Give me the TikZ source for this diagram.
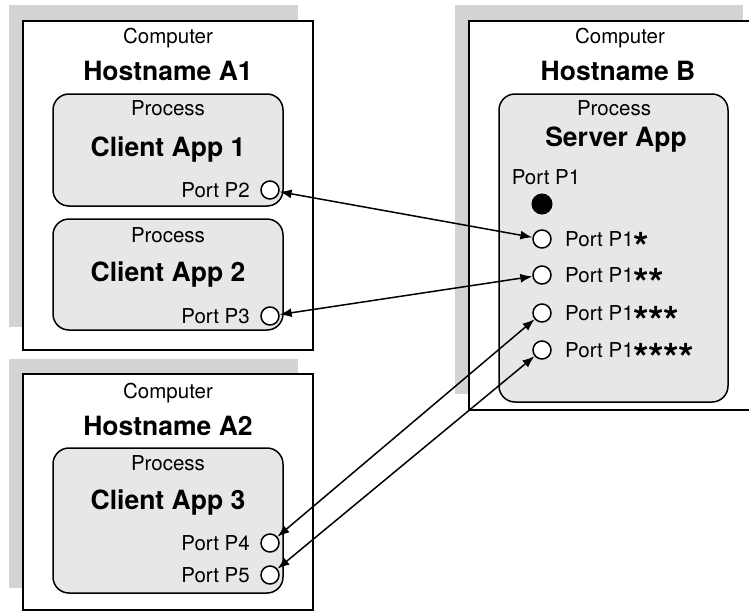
\documentclass[tikz,border=0pt]{standalone}
\usepackage{fontspec}
\setmainfont{TeX Gyre Heros}
\usetikzlibrary{arrows.meta}
\definecolor{shadowgray}{RGB}{209,211,212}
\definecolor{procgray}{RGB}{230,231,233}
\newcommand\portstar{\raisebox{-14.5pt}[12pt][0pt]{\fontsize{40pt}{40pt}\selectfont\bfseries *}\kern-0.5pt}
\begin{document}
\begin{tikzpicture}[x=1pt,y=-1pt,
  shadowbox/.style={rectangle, fill=shadowgray, draw=none, inner sep=0pt, outer sep=0pt, anchor=north west},
  compbox/.style={rectangle, fill=white, draw=black, line width=1.8pt, inner sep=0pt, outer sep=0pt, anchor=north west},
  procbox/.style={rectangle, rounded corners=16pt, fill=procgray, draw=black, line width=1.5pt, inner sep=0pt, outer sep=0pt, anchor=north west},
  small/.style={font=\fontsize{20.5pt}{24pt}\selectfont, inner sep=0pt},
  big/.style={font=\fontsize{26.5pt}{30pt}\selectfont\bfseries, inner sep=0pt},
  portc/.style={circle, draw=black, fill=white, line width=1.5pt, minimum size=18pt, inner sep=0pt},
  portf/.style={circle, draw=black, fill=black, line width=1pt, minimum size=20pt, inner sep=0pt},
  link/.style={{Latex[length=12pt,width=9pt]}-{Latex[length=12pt,width=9pt]}, line width=1.5pt}
]
\clip (0,0) rectangle (749,613);
\fill[white] (0,0) rectangle (749,613);

% Computer A1
\node[shadowbox, minimum width=289pt, minimum height=322pt] (A1s) at (9,5) {};
\node[compbox, minimum width=290pt, minimum height=329pt] (A1) at (23,21) {};
\node[small] (A1t) at (168,38) {Computer};
\node[big] (A1h) at (168,71) {Hostname A1};
\node[procbox, minimum width=230pt, minimum height=112pt] (C1) at (53,94) {};
\node[small] (C1t) at (168,108) {Process};
\node[big] (C1h) at (168,150) {Client App 1};
\node[small, anchor=east] (L2) at (250,190) {Port P2};
\node[portc] (p2) at (270,190) {};
\node[procbox, minimum width=230pt, minimum height=111pt] (C2) at (53,219) {};
\node[small] (C2t) at (168,235) {Process};
\node[big] (C2h) at (168,275) {Client App 2};
\node[small, anchor=east] (L3) at (250,316) {Port P3};
\node[portc] (p3) at (270,316) {};

% Computer A2
\node[shadowbox, minimum width=289pt, minimum height=229pt] (A2s) at (9,359) {};
\node[compbox, minimum width=290pt, minimum height=236pt] (A2) at (23,374) {};
\node[small] (A2t) at (168,393) {Computer};
\node[big] (A2h) at (168,426) {Hostname A2};
\node[procbox, minimum width=230pt, minimum height=145pt] (C3) at (53,448) {};
\node[small] (C3t) at (168,463) {Process};
\node[big] (C3h) at (168,503) {Client App 3};
\node[small, anchor=east] (L4) at (250,543) {Port P4};
\node[portc] (p4) at (270,543) {};
\node[small, anchor=east] (L5) at (250,575) {Port P5};
\node[portc] (p5) at (270,575) {};

% Computer B
\node[shadowbox, minimum width=288pt, minimum height=389pt] (Bs) at (455,5) {};
\node[compbox, minimum width=300pt, minimum height=389pt] (B) at (469,21) {};
\node[small] (Bt) at (620,38) {Computer};
\node[big] (Bh) at (618,71) {Hostname B};
\node[procbox, minimum width=229pt, minimum height=308pt] (S) at (499,94) {};
\node[small] (St) at (614,108) {Process};
\node[big] (Sh) at (616,140) {Server App};
\node[small] (L1) at (546,177) {Port P1};
\node[portf] (p1) at (542,204) {};
\node[portc] (q1) at (542,239) {};
\node[small, anchor=base west] (M1) at (565,246.5) {Port P1\portstar};
\node[portc] (q2) at (542,275) {};
\node[small, anchor=base west] (M2) at (565,282.5) {Port P1\portstar\portstar};
\node[portc] (q3) at (542,313) {};
\node[small, anchor=base west] (M3) at (565,320.5) {Port P1\portstar\portstar\portstar};
\node[portc] (q4) at (542,350) {};
\node[small, anchor=base west] (M4) at (565,357.5) {Port P1\portstar\portstar\portstar\portstar};

% Connections
\draw[link] (p2) -- (q1);
\draw[link] (p3) -- (q2);
\draw[link] (p4) -- (q3);
\draw[link] (p5) -- (q4);
\end{tikzpicture}
\end{document}
